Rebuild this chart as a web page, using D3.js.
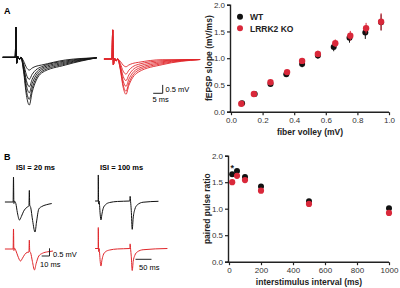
<!DOCTYPE html>
<html>
<head>
<meta charset="utf-8">
<title>LRRK2 KO - fEPSP and paired pulse</title>
<script type="text/javascript" src="https://d3js.org/d3.v7.min.js"></script>
<style>
  body { margin: 0; background: #fff; }
  text { font-family: "Liberation Sans", Arial, sans-serif; }
</style>
</head>
<body>
<script type="text/javascript">
  var width = 400;
  var height = 288;
  var black = "#111111";
  var red = "#e0262a";
  var redDot = "#d9283a";

  // ---- panel A traces (ms, mV) ----
  // trough depth, tail at 13.5 ms, tail at 26 ms, for each trace
  var aWtTrough = [0.76, 1.31, 1.75, 2.11, 2.5, 2.84];
  var aWtTail1  = [0.46, 0.56, 0.65, 0.74, 0.84, 0.93];
  var aWtTail2  = [0.16, 0.22, 0.28, 0.34, 0.40, 0.46];
  var aKoTrough = [0.46, 0.9, 1.29, 1.63, 1.92, 2.1];
  var aKoTail1  = [0.2, 0.32, 0.44, 0.56, 0.67, 0.78];
  var aKoTail2  = [0.04, 0.1, 0.16, 0.22, 0.28, 0.34];

  // ---- panel B traces (ms, mV) ----
  var isi20Wt = [[-11,0],[-0.5,0],[0,1.62],[0.5,-0.1],[1.5,0.05],[3,-0.1],[5,-0.7],[7.7,-1.17],[10,-0.95],[13,-0.6],[17,-0.35],
                 [19.8,-0.25],[20.3,0.75],[20.8,-0.2],[22,-0.35],[24.5,-1.2],[27.6,-1.95],[29.5,-1.3],[32.5,-0.45],[36,-0.3],[42,-0.18],[49,-0.1]];
  var isi20Ko = [[-11,0],[-0.5,0],[0,1.3],[0.5,-0.1],[1.5,0.05],[3,-0.1],[5.5,-0.45],[9,-0.78],[11.5,-0.6],[14.5,-0.35],[17.5,-0.22],
                 [19.8,-0.2],[20.3,0.58],[20.8,-0.15],[22,-0.25],[24.2,-0.8],[26.9,-1.36],[29,-0.95],[32.5,-0.45],[37,-0.28],[44,-0.18],[50.6,-0.13]];
  var isi100Wt = [[-10,0],[-0.5,0],[0,1.69],[1,-0.2],[2.5,0],[4,-0.3],[6,-0.9],[8.4,-1.23],[11,-0.9],[15,-0.5],[22,-0.25],[35,-0.1],[60,-0.03],
                  [98.5,0],[99.5,0.3],[101,-0.05],[103,-0.6],[106,-1.84],[109,-1.1],[114,-0.55],[122,-0.25],[140,-0.08],[188,-0.02]];
  var isi100Ko = [[-10,0],[-0.5,0],[0,1.36],[1,-0.2],[2.5,0],[4,-0.3],[6,-0.85],[8.4,-1.14],[11,-0.8],[15,-0.45],[22,-0.22],[35,-0.1],[60,-0.03],
                  [98.5,0],[99.5,0.3],[101,-0.05],[103,-0.5],[106,-1.43],[109,-0.85],[114,-0.45],[122,-0.22],[140,-0.08],[216,0]];

  // ---- fEPSP slope vs fiber volley ----
  var wtFv    = [0.07, 0.15, 0.25, 0.35, 0.45, 0.55, 0.65, 0.75, 0.85, 0.95];
  var wtSlope = [0.16, 0.33, 0.52, 0.70, 0.89, 1.05, 1.21, 1.38, 1.48, 1.67];
  var wtErr   = [0.02, 0.02, 0.03, 0.04, 0.06, 0.06, 0.08, 0.09, 0.12, 0.15];
  var koFv    = [0.065, 0.145, 0.25, 0.355, 0.45, 0.55, 0.66, 0.755, 0.855, 0.95];
  var koSlope = [0.15, 0.33, 0.55, 0.74, 0.95, 1.08, 1.28, 1.42, 1.56, 1.68];
  var koErr   = [0.02, 0.02, 0.03, 0.04, 0.05, 0.06, 0.07, 0.09, 0.10, 0.16];

  // ---- paired pulse ratio ----
  var isi    = [20, 50, 100, 200, 500, 1000];
  var wtPpr  = [1.65, 1.71, 1.60, 1.42, 1.14, 1.01];
  var wtPErr = [0.03, 0.03, 0.03, 0.03, 0.03, 0.03];
  var koPpr  = [1.50, 1.62, 1.54, 1.34, 1.09, 0.92];
  var koPErr = [0.03, 0.03, 0.03, 0.03, 0.03, 0.03];

  var svg = d3.select("body").append("svg")
              .attr("width", width).attr("height", height);

  var line = function(xs, ys) {
    return d3.line().x(function(d){ return xs(d[0]); })
                    .y(function(d){ return ys(d[1]); })
                    .curve(d3.curveMonotoneX);
  };

  function epsp(A, T1, T2, art, t0, t1) {
    return [[t0,0],[-0.4,0],[0,art],[0.35,-0.35],[0.9,0.05],[1.8,-0.12],[2.6,0],
            [4,-0.3*A],[5.5,-0.8*A],[7,-A],[8.5,-(0.6*A+0.4*T1)],[10.5,-(0.25*A+0.75*T1)],
            [13.5,-T1],[26,-T2],[t1,-0.03]];
  }

  // panel labels
  svg.append("text").attr("x", 4).attr("y", 14).style("font-size","9px").style("font-weight","bold").text("A");
  svg.append("text").attr("x", 4).attr("y", 160).style("font-size","9px").style("font-weight","bold").text("B");

  // ---- panel A traces ----
  var axW = d3.scaleLinear().domain([0,1]).range([16, 17.9]);
  var ayW = d3.scaleLinear().domain([0,1]).range([57.3, 40.5]);
  var axK = d3.scaleLinear().domain([0,1]).range([112.7, 114.6]);
  var ayK = d3.scaleLinear().domain([0,1]).range([59, 42.2]);

  aWtTrough.forEach(function(a, i){
    svg.append("path").attr("d", line(axW, ayW)(epsp(a, aWtTail1[i], aWtTail2[i], 1.79, -7, 42.5)))
       .attr("fill","none").attr("stroke",black).attr("stroke-width",0.9);
  });
  aKoTrough.forEach(function(a, i){
    svg.append("path").attr("d", line(axK, ayK)(epsp(a, aKoTail1[i], aKoTail2[i], 1.73, -4.6, 46)))
       .attr("fill","none").attr("stroke",red).attr("stroke-width",0.9);
  });

  // scale bar A
  var sbX = 162.7, sbY = 93.3;
  svg.append("path")
     .attr("d", "M" + (sbX - (axK(5)-axK(0))) + "," + sbY + "H" + sbX + "V" + (sbY - (ayK(0)-ayK(0.5))))
     .attr("fill","none").attr("stroke","#222").attr("stroke-width",1);
  svg.append("text").attr("x", 165.5).attr("y", 92).style("font-size","7.5px").text("0.5 mV");
  svg.append("text").attr("x", 152.5).attr("y", 102).style("font-size","7.5px").text("5 ms");

  // ---- panel B traces ----
  svg.append("text").attr("x", 16).attr("y", 170).style("font-size","7.5px").style("font-weight","bold").text("ISI = 20 ms");
  svg.append("text").attr("x", 100).attr("y", 170).style("font-size","7.5px").style("font-weight","bold").text("ISI = 100 ms");

  var bx20 = d3.scaleLinear().domain([0,1]).range([13.5, 14.28]);
  var by20W = d3.scaleLinear().domain([0,1]).range([202, 186.6]);
  var by20K = d3.scaleLinear().domain([0,1]).range([249, 233.6]);
  var bx100 = d3.scaleLinear().domain([0,1]).range([98.3, 98.62]);
  var by100W = d3.scaleLinear().domain([0,1]).range([201, 185.6]);
  var by100K = d3.scaleLinear().domain([0,1]).range([248.5, 233.1]);

  [[isi20Wt, bx20, by20W, black], [isi20Ko, bx20, by20K, red],
   [isi100Wt, bx100, by100W, black], [isi100Ko, bx100, by100K, red]].forEach(function(t){
    svg.append("path").attr("d", line(t[1], t[2])(t[0]))
       .attr("fill","none").attr("stroke",t[3]).attr("stroke-width",1);
  });

  // scale bars B
  var sb2X = 49.5, sb2Y = 256;
  svg.append("path")
     .attr("d", "M" + (sb2X - (bx20(10)-bx20(0))) + "," + sb2Y + "H" + sb2X + "V" + (sb2Y - (by20K(0)-by20K(0.5))))
     .attr("fill","none").attr("stroke","#222").attr("stroke-width",1);
  svg.append("text").attr("x", 53).attr("y", 257).style("font-size","7.5px").text("0.5 mV");
  svg.append("text").attr("x", 40).attr("y", 267).style("font-size","7.5px").text("10 ms");
  svg.append("line").attr("x1", 135.5).attr("x2", 135.5 + (bx100(50)-bx100(0)))
     .attr("y1", 259.3).attr("y2", 259.3).attr("stroke","#222").attr("stroke-width",1);
  svg.append("text").attr("x", 139).attr("y", 270).style("font-size","7.5px").text("50 ms");

  // ---- scatter plots ----
  function drawAxes(x, y, xTicks, yTicks, xFmt, xTitle, yTitle) {
    var g = svg.append("g");
    var xa = g.append("g").attr("transform","translate(0," + (y.range()[0] + 0.5) + ")")
              .call(d3.axisBottom(x).tickValues(xTicks).tickSize(3).tickPadding(2).tickFormat(xFmt));
    var ya = g.append("g").attr("transform","translate(" + (x.range()[0] - 1) + ",0)")
              .call(d3.axisLeft(y).tickValues(yTicks).tickSize(3).tickPadding(2).tickFormat(d3.format(".1f")));
    [xa, ya].forEach(function(a){
      a.select(".domain").attr("stroke","#222").attr("stroke-width",1.4);
      a.selectAll(".tick line").attr("stroke","#222").attr("stroke-width",1.2);
      a.selectAll("text").style("font-family","Liberation Sans, Arial, sans-serif").style("font-size","8px").attr("fill","#333");
    });
    xa.select(".domain").attr("d", "M" + (x.range()[0] - 1.7) + ",0H" + x.range()[1]);
    var xm = (x.range()[0] + x.range()[1]) / 2;
    g.append("text").attr("x", xm).attr("y", y.range()[0] + 23).attr("text-anchor","middle")
     .style("font-size","8.5px").style("font-weight","bold").attr("fill","#222").text(xTitle);
    var ym = (y.range()[0] + y.range()[1]) / 2;
    g.append("text").attr("transform","translate(" + (x.range()[0] - 19) + "," + ym + ") rotate(-90)")
     .attr("text-anchor","middle")
     .style("font-size","8.5px").style("font-weight","bold").attr("fill","#222").text(yTitle);
  }

  function drawSeries(x, y, xs, ys, es, color, r) {
    var g = svg.append("g");
    xs.forEach(function(xv, i){
      g.append("line").attr("x1", x(xv)).attr("x2", x(xv))
       .attr("y1", y(ys[i] - es[i])).attr("y2", y(ys[i] + es[i]))
       .attr("stroke", color).attr("stroke-width", 1);
      g.append("circle").attr("cx", x(xv)).attr("cy", y(ys[i])).attr("r", r).attr("fill", color);
    });
  }

  // top right
  var x1 = d3.scaleLinear().domain([0, 1]).range([231, 389]);
  var y1 = d3.scaleLinear().domain([0, 2]).range([111.7, 4.7]);
  drawAxes(x1, y1, [0,0.2,0.4,0.6,0.8,1.0], [0,0.5,1.0,1.5,2.0], d3.format(".1f"),
           "fiber volley (mV)", "fEPSP slope (mV/ms)");
  drawSeries(x1, y1, wtFv, wtSlope, wtErr, black, 3);
  drawSeries(x1, y1, koFv, koSlope, koErr, redDot, 3.2);

  // legend
  var leg = svg.append("g");
  [["WT", black], ["LRRK2 KO", redDot]].forEach(function(d, i){
    leg.append("circle").attr("cx", 240).attr("cy", 16.7 + i * 11.6).attr("r", 3).attr("fill", d[1]);
    leg.append("text").attr("x", 250).attr("y", 20 + i * 11.6)
       .style("font-size","8.5px").style("font-weight","bold").attr("fill","#222").text(d[0]);
  });

  // bottom right
  var x2 = d3.scaleLinear().domain([0, 1000]).range([229, 389]);
  var y2 = d3.scaleLinear().domain([0, 2]).range([261.7, 155.7]);
  drawAxes(x2, y2, [0,200,400,600,800,1000], [0,0.5,1.0,1.5,2.0], d3.format("d"),
           "interstimulus interval (ms)", "paired pulse ratio");
  drawSeries(x2, y2, isi, wtPpr, wtPErr, black, 3);
  drawSeries(x2, y2, isi, koPpr, koPErr, redDot, 3.1);

  svg.append("text").attr("x", x2(isi[0])).attr("y", y2(1.79) + 4).attr("text-anchor","middle")
     .style("font-size","9px").style("font-weight","bold").attr("fill","#222").text("*");
</script>
</body>
</html>
